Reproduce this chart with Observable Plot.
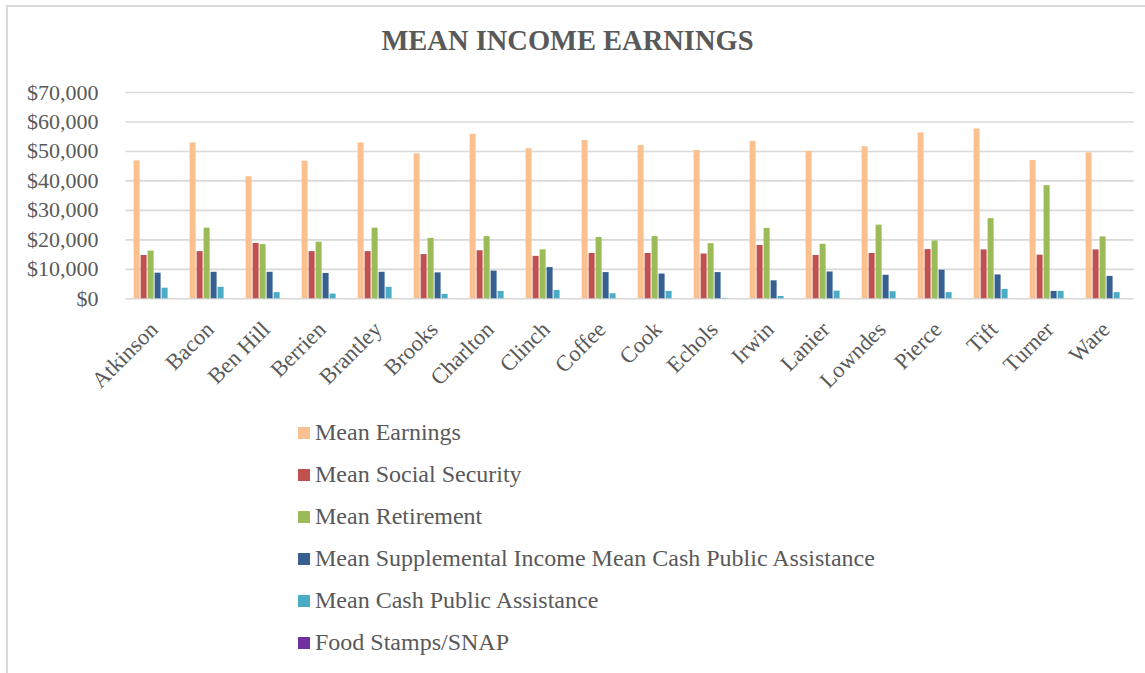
<!DOCTYPE html>
<html>
<head>
<meta charset="utf-8">
<script src="https://cdn.jsdelivr.net/npm/d3@7"></script>
<script src="https://cdn.jsdelivr.net/npm/@observablehq/plot@0.6"></script>
<style>
  html, body { margin: 0; padding: 0; background: #fff; overflow: hidden; }
  body { position: relative; width: 1145px; height: 673px; font-family: "Liberation Serif", "Times New Roman", serif; color: #595959; }
  #frame { position: absolute; left: 6px; top: 5px; width: 1200px; height: 720px; border-left: 2px solid #d9d9d9; border-top: 2px solid #d9d9d9; box-sizing: border-box; }
  #title { position: absolute; left: 0; top: 24px; width: 1135px; text-align: center; font-weight: bold; font-size: 28.5px; line-height: 34px; color: #595959; }
  #chart { position: absolute; left: 0; top: 80px; width: 1145px; }
  #chart svg text { font-family: "Liberation Serif", "Times New Roman", serif !important; }
  #chart svg [aria-label="y-axis tick label"] text, #chart svg [aria-label="y-axis tick label"] { font-size: 22px !important; }
  #chart svg [aria-label="fx-axis tick label"] text, #chart svg [aria-label="fx-axis tick label"] { font-size: 22.5px !important; }
  #legend { position: absolute; left: 298px; top: 411.5px; }
  .row { height: 42px; display: flex; align-items: center; font-size: 24px; color: #595959; }
  .sw { width: 12px; height: 12px; margin-right: 5px; flex: none; }
</style>
</head>
<body>
<div id="frame"></div>
<div id="title">MEAN INCOME EARNINGS</div>
<div id="chart"></div>
<div id="legend"></div>
<script>
const counties = ["Atkinson","Bacon","Ben Hill","Berrien","Brantley","Brooks","Charlton","Clinch","Coffee","Cook","Echols","Irwin","Lanier","Lowndes","Pierce","Tift","Turner","Ware"];
const seriesNames = ["Mean Earnings","Mean Social Security","Mean Retirement","Mean Supplemental Income Mean Cash Public Assistance","Mean Cash Public Assistance","Food Stamps/SNAP"];
const seriesColors = ["#FAC090","#C0504D","#9BBB59","#376092","#4BACC6","#7030A0"];

const meanEarnings       = [46800,52900,41400,46700,52900,49200,55800,50900,53700,52000,50300,53400,50000,51600,56300,57600,46900,49500];
const meanSocialSecurity = [14700,16000,18800,16000,16000,15000,16300,14400,15400,15400,15200,18100,14700,15400,16700,16600,14800,16600];
const meanRetirement     = [16200,24000,18400,19200,24000,20500,21100,16600,20800,21100,18700,23900,18500,25000,19600,27200,38400,21000];
const meanSupplemental   = [8700,9000,9000,8600,9000,8800,9400,10600,8900,8400,8900,6100,9100,8000,9700,8100,2500,7600];
const meanCashAssistance = [3600,3900,2100,1600,3900,1500,2500,2800,1700,2500,150,800,2600,2400,2100,3200,2500,2100];
const foodStampsSNAP     = [0,0,0,0,0,0,0,0,0,0,0,0,0,0,0,0,0,0];

const yTicks = [0,10000,20000,30000,40000,50000,60000,70000];

const seriesValues = [meanEarnings, meanSocialSecurity, meanRetirement, meanSupplemental, meanCashAssistance, foodStampsSNAP];
const data = counties.flatMap((c, i) => seriesNames.map((s, j) => ({county: c, series: s, value: seriesValues[j][i]})));

const fxPad = 0.165;
const halfGap = 4.6;

const chart = Plot.plot({
  width: 1145,
  height: 330,
  marginLeft: 128 - halfGap,
  marginRight: 15 - halfGap,
  marginTop: 12,
  marginBottom: 111.7,
  style: {fontFamily: "'Liberation Serif', 'Times New Roman', serif", fontSize: "20px", color: "#595959", background: "transparent"},
  fx: {domain: counties, padding: fxPad, label: null},
  x: {domain: seriesNames, padding: 0.2, axis: null},
  y: {domain: [0, 70000], label: null},
  color: {domain: seriesNames, range: seriesColors},
  marks: [
    Plot.ruleY(yTicks, {stroke: "#d9d9d9", strokeWidth: 1.6, strokeOpacity: 1, insetLeft: -halfGap, insetRight: -halfGap}),
    Plot.barY(data, {fx: "county", x: "series", y: "value", fill: "series"}),
    Plot.axisY(yTicks, {tickSize: 0, tickPadding: 32, tickFormat: d => "$" + d3.format(",")(d), fontSize: 22, label: null}),
    Plot.axisFx({anchor: "bottom", tickRotate: -45, tickSize: 0, tickPadding: 27, fontSize: 22.5, label: null})
  ]
});
document.getElementById("chart").appendChild(chart);

const legend = d3.select("#legend");
seriesNames.forEach((s, j) => {
  const row = legend.append("div").attr("class", "row");
  row.append("div").attr("class", "sw").style("background", seriesColors[j]);
  row.append("span").text(s);
});
</script>
</body>
</html>
